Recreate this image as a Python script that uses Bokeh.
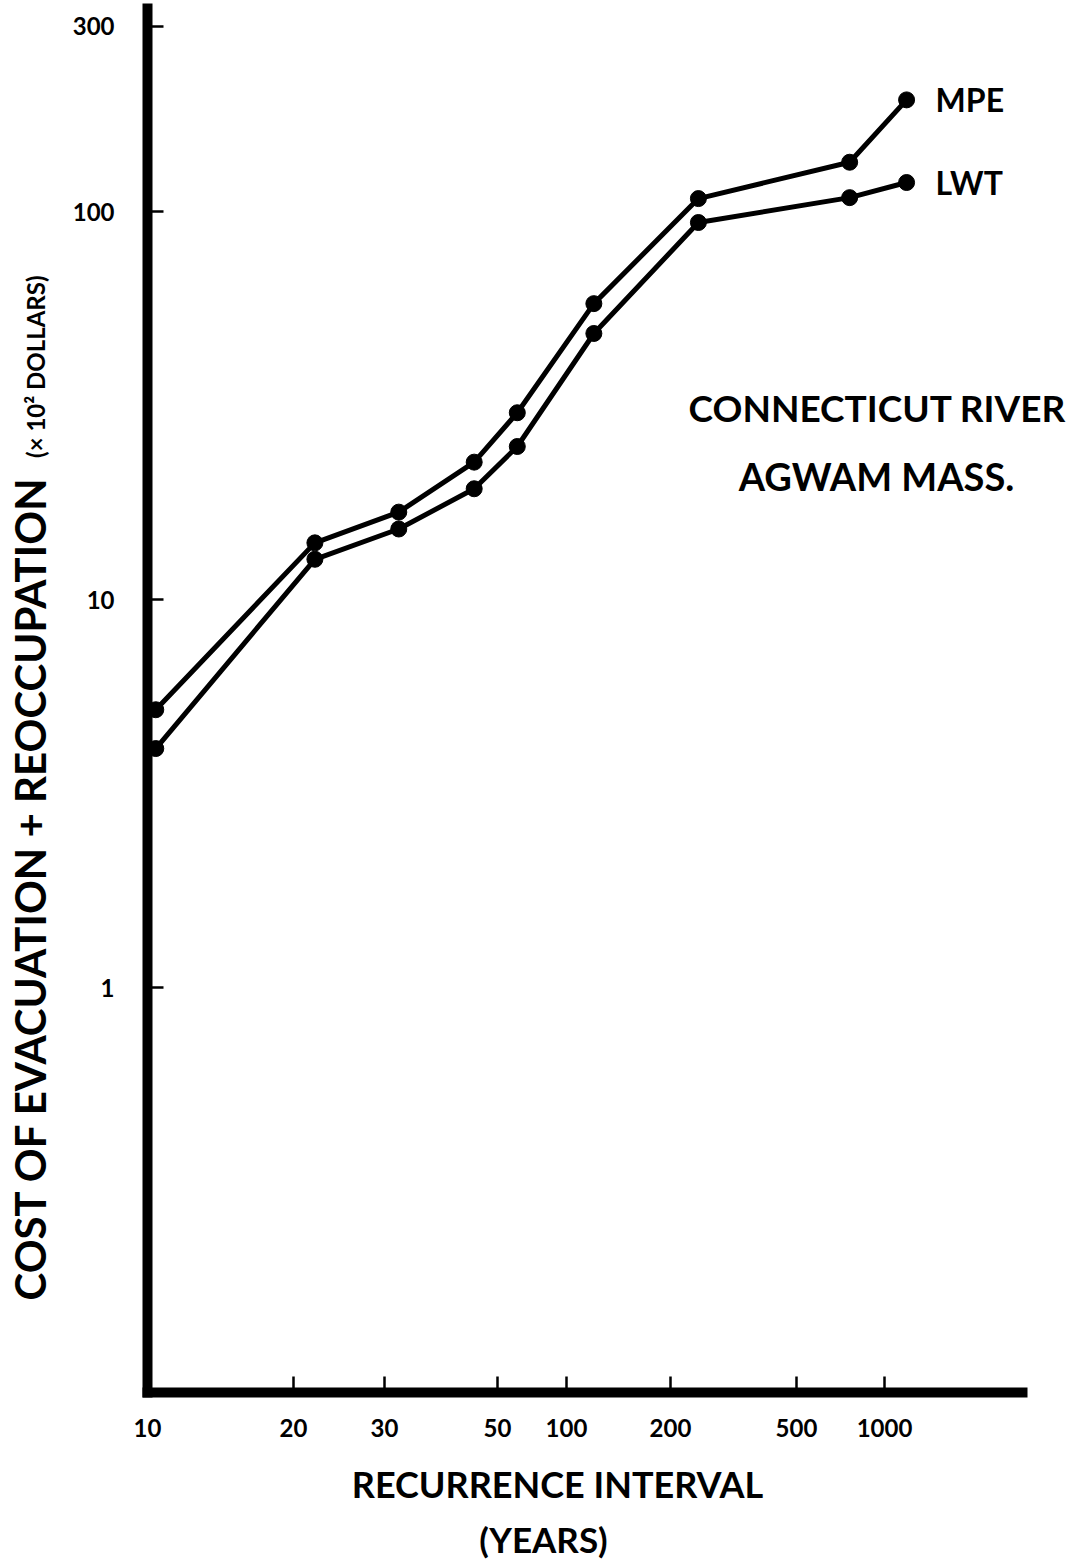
import numpy as np
from bokeh.plotting import figure
from bokeh.models import FixedTicker, Label, Range1d
from bokeh.embed import file_html
from bokeh.resources import INLINE

# ---- data ----
years = [10.4, 22, 32, 45, 61, 120, 245, 760, 1190]
mpe = [5.2, 14.0, 16.8, 22.6, 30.3, 57.9, 108, 134, 194]
lwt = [4.13, 12.7, 15.2, 19.3, 24.8, 48.5, 93.7, 108.6, 118.8]

x_tick_years = [10, 20, 30, 50, 100, 200, 500, 1000]
x_tick_labels = ["10", "20", "30", "50", "100", "200", "500", "1000"]
y_ticks = [1, 10, 100, 300]
y_tick_labels = ["1", "10", "100", "300"]

# The hand-ruled recurrence-interval scale of the original paper (not uniform in log):
# position of each labelled interval along the axis
scale_pos = [0, 146, 237, 350, 419, 523, 649, 737]


def to_axis(t):
    lk = np.log10(x_tick_years)
    lt = np.log10(t)
    if lt <= lk[-1]:
        return float(np.interp(lt, lk, scale_pos))
    slope = (scale_pos[-1] - scale_pos[-2]) / (lk[-1] - lk[-2])
    return float(scale_pos[-1] + slope * (lt - lk[-1]))


xs = [to_axis(t) for t in years]

FONT = "Lato"
W, H = 1075, 1568

# axis extents (data units)
X_END = 875
Y_LOW, Y_HIGH = 0.09041, 333.6

p = figure(width=W, height=H,
           x_range=Range1d(-147, 928), y_range=Range1d(0.03182, 349.9),
           y_axis_type="log", output_backend="svg", toolbar_location=None,
           min_border=0, min_border_left=0, min_border_right=0,
           min_border_top=0, min_border_bottom=0)

p.outline_line_color = None
p.xgrid.grid_line_color = None
p.ygrid.grid_line_color = None
p.background_fill_color = "white"
p.border_fill_color = "white"

# x axis
xa = p.xaxis[0]
xa.fixed_location = Y_LOW
xa.bounds = (0, X_END)
xt = [int(round(to_axis(t))) for t in x_tick_years]
xa.ticker = FixedTicker(ticks=xt, minor_ticks=[])
xa.major_label_overrides = {k: lab for k, lab in zip(xt, x_tick_labels)}
xa.axis_line_width = 10
xa.axis_line_color = "black"
xa.axis_line_cap = "square"
xa.major_tick_in = 16
xa.major_tick_out = 0
xa.major_tick_line_width = 2.5
xa.minor_tick_line_color = None
xa.major_label_standoff = 26
xa.major_label_text_font = FONT
xa.major_label_text_font_style = "bold"
xa.major_label_text_font_size = "24px"
xa.major_label_text_color = "black"

# y axis
ya = p.yaxis[0]
ya.fixed_location = 0
ya.bounds = (Y_LOW, Y_HIGH)
ya.ticker = FixedTicker(ticks=y_ticks, minor_ticks=[])
ya.major_label_overrides = {k: lab for k, lab in zip(y_ticks, y_tick_labels)}
ya.axis_line_width = 10
ya.axis_line_color = "black"
ya.axis_line_cap = "square"
ya.major_tick_in = 16
ya.major_tick_out = 0
ya.major_tick_line_width = 2.5
ya.minor_tick_line_color = None
ya.major_label_standoff = 33
ya.major_label_text_font = FONT
ya.major_label_text_font_style = "bold"
ya.major_label_text_font_size = "24px"
ya.major_label_text_color = "black"
ya.major_label_orientation = "horizontal"

# series
for ys in (mpe, lwt):
    p.line(xs, ys, line_width=5, line_color="black", line_join="round")
    p.scatter(xs, ys, size=16, fill_color="black", line_color="black")

# series labels at the line ends
for ys, name in ((mpe, "MPE"), (lwt, "LWT")):
    p.add_layout(Label(x=xs[-1], y=ys[-1], x_offset=29, text=name, text_font=FONT,
                       text_font_style="bold", text_color="black",
                       text_font_size="32px", text_align="left", text_baseline="middle"))


def screen_label(px, py, text, size, align="center", baseline="middle", angle=0.0, style="bold"):
    p.add_layout(Label(x=px, y=H - py, x_units="screen", y_units="screen", angle=angle,
                       text=text, text_font=FONT, text_font_style=style, text_color="black",
                       text_font_size=size, text_align=align, text_baseline=baseline))


# station annotation
screen_label(877, 407, "CONNECTICUT RIVER", "37px")
screen_label(876, 475, "AGWAM MASS.", "38px")

# axis titles
screen_label(557, 1483, "RECURRENCE INTERVAL", "36px")
screen_label(543, 1538, "(YEARS)", "35px")
screen_label(29, 1300, "COST OF EVACUATION + REOCCUPATION", "42px",
             align="left", baseline="alphabetic", angle=np.pi / 2)
screen_label(35, 275, "(× 10² DOLLARS)", "24px",
             align="right", baseline="alphabetic", angle=np.pi / 2)

open("out.html", "w").write(file_html(p, INLINE))
